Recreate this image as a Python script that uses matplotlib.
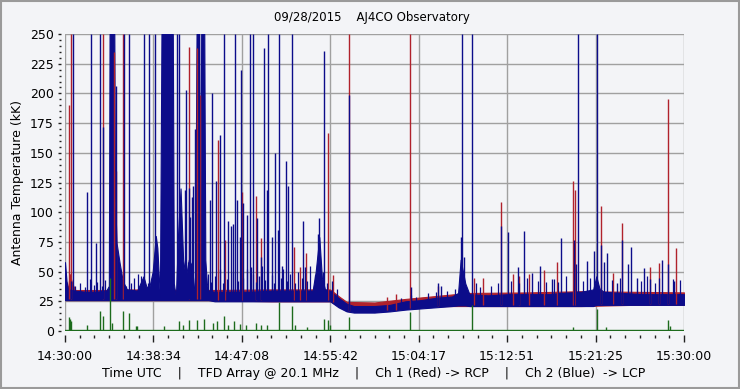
import matplotlib
matplotlib.use("Agg")
from matplotlib import pyplot as plt
from matplotlib.patches import Rectangle
from matplotlib.ticker import FuncFormatter, MultipleLocator
import numpy as np

# time axis: minutes after 14:30:00 UTC
band_t = [0.0, 0.15, 0.3, 1.0, 2.0, 3.0, 4.0, 4.25, 4.32, 4.78, 4.85, 5.0, 5.3, 5.6, 6.0,
          7.0, 7.3, 7.6, 7.9, 8.2, 8.5, 8.8, 8.95, 9.2, 9.35, 10.45, 10.55, 10.75, 10.95, 11.2,
          11.45, 11.7, 12.0, 12.3, 12.6, 12.75, 13.0, 13.1, 13.2, 13.5, 13.6, 13.75, 13.9, 14.5,
          16.0, 18.0, 20.0, 22.0, 24.0, 24.3, 24.65, 24.9, 25.2, 25.7, 26.5, 27.3, 28.0, 30.0,
          31.5, 33.0, 34.5, 36.0, 37.5, 38.1, 38.35, 38.8, 39.2, 41.0, 43.0, 45.0, 47.0, 48.0,
          50.0, 51.2, 51.5, 51.8, 52.2, 54.0, 56.0, 58.0, 60.0]
blue_hi = [58, 42, 35, 34, 33, 33, 34, 38, 250, 250, 113, 74, 57, 42, 35,
           34, 40, 46, 37, 38, 50, 80, 70, 28, 250, 250, 40, 28, 80, 120,
           60, 45, 60, 55, 28, 250, 250, 28, 250, 250, 60, 40, 34, 33,
           33, 33, 34, 34, 34, 50, 79, 45, 35, 34, 28, 23, 21, 21,
           22, 25, 26, 28, 29, 32, 60, 40, 31, 30, 31, 31, 31, 32,
           33, 35, 46, 36, 33, 32, 31, 31, 31]
blue_lo = [26, 26, 26, 26, 26, 26, 26, 26, 26, 26, 26, 26, 26, 26, 26,
           26, 26, 26, 26, 26, 26, 26, 26, 26, 26, 26, 26, 26, 26, 26,
           26, 26, 26, 26, 26, 26, 26, 26, 26, 26, 26, 26, 26, 25,
           25, 25, 25, 25, 25, 25, 25, 25, 25, 25, 20, 16.5, 15.5, 15.5,
           16.5, 18, 19, 20, 21, 21.5, 21.5, 21.5, 21, 21, 21, 21, 21, 21,
           21, 21, 22, 22, 22, 22, 22, 22, 22]

red_t = [0.0, 0.3, 0.45, 0.7, 1.0, 4.2, 6.0, 14.0, 20.0, 25.7, 26.5, 27.3, 30.0, 33.0, 36.0,
         39.0, 45.0, 50.0, 55.0, 60.0]
red_lo = [26, 26, 26, 26, 26, 26, 26, 26, 25, 25, 21, 17, 16, 19, 21, 21, 21, 21, 22, 22]
red_hi = [45, 35, 48, 40, 34.5, 34.5, 35, 34.5, 35, 35, 29.5, 24.5, 24, 27, 29.5, 32, 32.5, 33.5, 33, 32.5]

# Ch 2 (blue) spikes: time, peak
blue_spk_t = [0.8, 2.16, 2.55, 2.97, 3.42, 3.71, 4.9, 5.69, 6.23, 7.69, 8.17, 8.69, 10.83, 11.08,
              11.6, 11.73, 11.99, 12.1, 12.3, 12.45, 12.57, 13.02, 13.45, 14.1, 14.28, 14.6,
              15.05, 15.44, 15.77, 16.1, 16.3, 16.5, 16.64, 16.95, 17.1, 17.25, 17.6, 17.9, 18.0,
              18.2, 18.6, 18.85, 19.0, 19.3, 19.55, 19.7, 20.03, 20.35, 20.6, 20.77, 21.0, 21.4,
              21.65, 21.97, 23.1, 23.3, 24.55, 24.65, 25.13, 27.5, 33.52, 36.2, 36.4, 38.35,
              38.5, 38.65, 39.48, 42.25, 42.97, 43.9, 44.5, 45.3, 46.04, 47.2, 48.07, 49.3,
              49.55, 49.76, 50.56, 51.3, 51.57, 51.98, 52.24, 52.56, 53.5, 54.0, 54.6, 54.9,
              55.4, 56.15, 56.7, 57.9, 58.48, 59.0]
blue_spk_v = [250, 117, 250, 74, 250, 172, 206, 250, 250, 250, 250, 250, 250, 250,
              119, 203, 120, 96, 113, 122, 170, 250, 135, 110, 200, 126,
              165, 250, 93, 88, 90, 250, 110, 79, 220, 108, 98, 250, 54,
              250, 95, 46, 62, 238, 119, 250, 79, 150, 85, 250, 55, 143,
              122, 250, 93, 54, 82, 95, 236, 199, 37, 40, 38, 79,
              250, 62, 250, 88, 83, 54, 84, 49, 55, 44, 78, 77,
              56, 250, 59, 67, 250, 72, 58, 66, 40, 77, 56, 71,
              45, 53, 44, 60, 56, 42]

# small blue ripples on top of the band
ripple_t = [0.6, 1.0, 1.45, 1.9, 2.4, 2.8, 3.1, 3.6, 3.9, 5.9, 6.4, 6.7, 7.1, 7.4, 7.7, 8.0,
            8.4, 11.3, 11.9, 12.2, 13.86, 14.2, 14.54, 15.02, 15.3, 15.7, 16.28, 16.8, 17.3,
            17.64, 18.22, 18.5, 19.09, 19.4, 20.06, 20.3, 20.9, 21.13, 21.5, 21.81, 22.3, 22.6,
            22.97, 23.5, 23.75, 24.23, 25.0, 25.4, 25.88, 26.36, 32.6, 33.5, 34.0, 35.2, 36.0,
            37.0, 37.8, 39.8, 40.2, 41.3, 42.0, 43.2, 44.0, 44.8, 45.8, 46.6, 47.4, 47.8, 48.6,
            50.2, 50.9, 53.0, 53.8, 55.8, 56.4, 57.2, 57.6, 58.9, 59.6]
ripple_v = [42, 38, 40, 37, 44, 39, 41, 38, 43, 38, 40, 45, 48, 46, 43, 40,
            45, 55, 58, 50, 48, 41, 46, 52, 40, 44, 50, 42, 45,
            52, 48, 41, 55, 43, 47, 40, 45, 52, 42, 48, 40, 50,
            45, 42, 55, 47, 50, 40, 42, 35, 28, 30, 29, 32, 33,
            34, 35, 40, 37, 38, 40, 42, 40, 45, 42, 41, 44, 41, 46,
            42, 45, 43, 45, 42, 46, 40, 45, 44, 43]

# Ch 1 (red) spikes
red_spk_t = [0.42, 0.55, 3.71, 4.78, 4.97, 5.59, 12.05, 12.82, 13.1, 14.8, 15.55, 17.2, 18.5,
             19.0, 22.15, 22.8, 23.36, 25.52, 26.0, 27.5, 31.2, 32.05, 33.47, 36.2, 39.65,
             40.5, 42.23, 43.4, 44.0, 45.0, 46.46, 47.7, 49.27, 49.45, 51.98, 53.15, 54.0,
             56.7, 57.57, 58.48, 59.2]
red_spk_v = [190, 250, 250, 235, 135, 250, 239, 238, 199, 161, 77, 117, 114,
             78, 71, 54, 66, 167, 47, 250, 29, 31, 250, 38, 45,
             45, 109, 48, 46, 48, 51, 58, 126, 119, 105, 49, 91,
             54, 57.5, 195, 69.5]

# green trace: baseline and spikes
green_t = [0.0, 60.0]
green_v = [1.0, 1.0]
green_spk_t = [0.42, 0.5, 0.62, 2.16, 3.39, 3.7, 4.36, 4.6, 5.65, 6.23, 6.9, 7.0, 9.6, 11.05,
               11.4, 12.0, 12.8, 13.47, 14.37, 14.75, 15.44, 15.8, 16.4, 17.0, 17.5, 18.5, 19.0,
               19.6, 20.77, 21.97, 22.3, 23.5, 25.13, 25.5, 25.7, 27.53, 33.47, 39.48, 49.27,
               51.57, 52.4, 58.48, 58.6]
green_spk_v = [12, 10, 8, 5, 17, 13, 45, 7, 17, 15, 4, 4, 4, 8,
               5, 9, 9, 10, 7, 8, 13, 5, 8, 6, 5, 7, 5,
               5, 24, 21, 5, 3, 10, 9, 5, 12, 16, 22, 3,
               18.5, 3, 9, 4]

major_labels = ["14:30:00", "14:38:34", "14:47:08", "14:55:42", "15:04:17", "15:12:51",
                "15:21:25", "15:30:00"]

BLUE = "#0c0c8a"
RED = "#b0222c"
GREEN = "#1d6b1d"
BG = "#f3f4f7"


def spike_base(ts):
    # spikes rise out of the noise band
    return np.interp(ts, band_t, blue_lo) + 1


fig = plt.figure(figsize=(7.4, 3.89), dpi=100, facecolor=BG)
ax = fig.add_axes([65 / 740, 1 - 331 / 389, (684 - 65) / 740, (331 - 34) / 389])
ax.set_facecolor(BG)

ax.fill_between(red_t, red_lo, red_hi, color=RED, lw=0.8)
ax.vlines(red_spk_t, spike_base(red_spk_t), red_spk_v, color=RED, lw=1.0)
ax.fill_between(band_t, blue_lo, blue_hi, color=BLUE, lw=0.8)
ax.vlines(blue_spk_t, spike_base(blue_spk_t), blue_spk_v, color=BLUE, lw=1.0)
ax.vlines(ripple_t, spike_base(ripple_t), ripple_v, color=BLUE, lw=0.9)
ax.plot(green_t, green_v, color=GREEN, lw=1.0)
ax.vlines(green_spk_t, 0.5, green_spk_v, color=GREEN, lw=1.0)

ax.set_xlim(0, 60)
ax.set_ylim(0, 250)
ax.xaxis.set_major_locator(MultipleLocator(60 / 7))
ax.xaxis.set_minor_locator(MultipleLocator(60 / 42))
ax.xaxis.set_major_formatter(FuncFormatter(
    lambda v, p: major_labels[int(round(v * 7 / 60))] if 0 <= round(v * 7 / 60) < 8 else ""))
ax.yaxis.set_major_locator(MultipleLocator(25))
ax.yaxis.set_minor_locator(MultipleLocator(5))
ax.grid(True, which="major", color="#a0a0a0", lw=1.0, zorder=0)
ax.set_axisbelow(True)

for s in ax.spines.values():
    s.set_color("none")
ax.spines["bottom"].set_position(("outward", 3))
ax.spines["left"].set_position(("outward", 3))

ax.tick_params(axis="x", which="major", length=5, width=1, color="#202020",
               labelsize=9, pad=6)
ax.tick_params(axis="x", which="minor", length=2.5, width=1, color="#202020")
ax.tick_params(axis="y", which="major", length=2, width=1, color="#202020",
               labelsize=9, pad=3)
ax.tick_params(axis="y", which="minor", length=1.2, width=1, color="#202020")

ax.set_ylabel("Antenna Temperature (kK)", fontsize=9, labelpad=4)
fig.text(372 / 740, 1 - 18 / 389, "09/28/2015    AJ4CO Observatory", ha="center",
         va="center", fontsize=8.5)
fig.text(374 / 740, 1 - 373 / 389,
         "Time UTC    |    TFD Array @ 20.1 MHz    |    Ch 1 (Red) -> RCP    |    Ch 2 (Blue)  -> LCP",
         ha="center", va="center", fontsize=9)

fig.patches.append(Rectangle((0.001, 0.002), 0.997, 0.996, transform=fig.transFigure,
                             fill=False, edgecolor="#9a9a9a", lw=1.5))

fig.savefig("out.png", dpi=100, facecolor=BG)
